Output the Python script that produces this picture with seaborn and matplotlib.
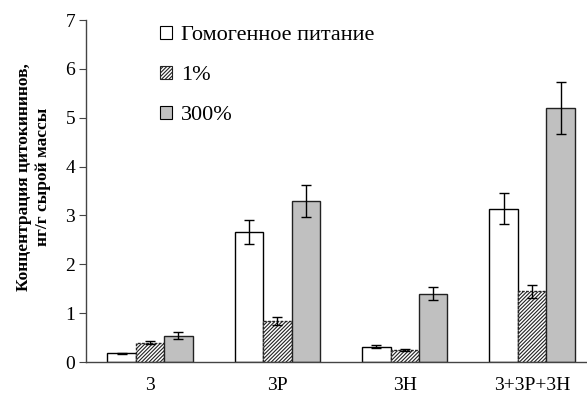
import pandas as pd
import seaborn as sns
import matplotlib.pyplot as plt

# данные
groups = ['3', '3P', '3H', '3+3P+3H']
series = ['Гомогенное питание', '1%', '300%']
homog = [0.18, 2.66, 0.31, 3.14]
homog_err = [0.01, 0.25, 0.03, 0.31]
p1 = [0.39, 0.845, 0.24, 1.445]
p1_err = [0.03, 0.08, 0.02, 0.14]
p300 = [0.54, 3.30, 1.40, 5.20]
p300_err = [0.065, 0.33, 0.14, 0.53]

df = pd.DataFrame({
    'Группа': groups * 3,
    'Серия': [series[0]] * 4 + [series[1]] * 4 + [series[2]] * 4,
    'Значение': homog + p1 + p300,
    'Ошибка': homog_err + p1_err + p300_err,
})

sns.set_style('white')
plt.rcParams['font.family'] = ['Liberation Serif', 'DejaVu Serif']
plt.rcParams['hatch.linewidth'] = 0.8
plt.rcParams['text.color'] = 'black'

fig = plt.figure(figsize=(5.87, 3.99), dpi=100)
ax = fig.add_axes([0.147, 0.0927, 0.868, 0.857])

colors = ['white', 'white', '#c0c0c0']
sns.barplot(data=df, x='Группа', y='Значение', hue='Серия', order=groups,
            hue_order=series, palette=colors, width=0.67, errorbar=None,
            edgecolor='black', linewidth=1, ax=ax)

# штриховка для 1%
for i, cont in enumerate(ax.containers):
    for bar in cont:
        if i == 1:
            bar.set_hatch('/////////')
            bar.set_edgecolor('#222222')
            bar.set_linestyle((0, (2, 1)))
        elif i == 2:
            bar.set_edgecolor('#222222')

# усы ошибок
for i, s in enumerate(series):
    sub = df[df['Серия'] == s]
    xs = [b.get_x() + b.get_width() / 2 for b in ax.containers[i]]
    ax.errorbar(xs, sub['Значение'], yerr=sub['Ошибка'], fmt='none',
                ecolor='black', elinewidth=1, capsize=3.6, capthick=1)

ax.set_ylim(0, 7)
ax.set_xlim(-0.5, 3.5)
ax.set_yticks(range(0, 8))
ax.set_xticks([0.5, 1.5, 2.5], minor=True)
ax.tick_params(axis='x', which='major', length=0, pad=11, labelsize=14,
               labelcolor='black')
ax.tick_params(axis='x', which='minor', length=5, direction='out', color='#444444')
ax.tick_params(axis='y', length=5, direction='out', labelsize=14, pad=3,
               color='#444444', left=True, labelcolor='black')
ax.set_xlabel('')
ax.set_ylabel('Концентрация цитокининов,\nнг/г сырой массы',
              fontsize=12.5, fontweight='bold', color='black')
ax.yaxis.set_label_coords(-0.07, 0.54)

for side in ['top', 'right']:
    ax.spines[side].set_visible(False)
for side in ['left', 'bottom']:
    ax.spines[side].set_color('#444444')
    ax.spines[side].set_linewidth(1)

leg = ax.legend(loc='upper left', bbox_to_anchor=(0.144, 0.983),
                frameon=False, fontsize=16, borderaxespad=0, borderpad=0,
                handlelength=0.55, handleheight=0.55, handletextpad=0.4,
                labelspacing=0.92)
for j, h in enumerate(leg.legend_handles):
    h.set_linewidth(0.8)
    if j == 1:
        h.set_hatch('/////////')
        h.set_edgecolor('#222222')

fig.savefig('out.png', dpi=100)
